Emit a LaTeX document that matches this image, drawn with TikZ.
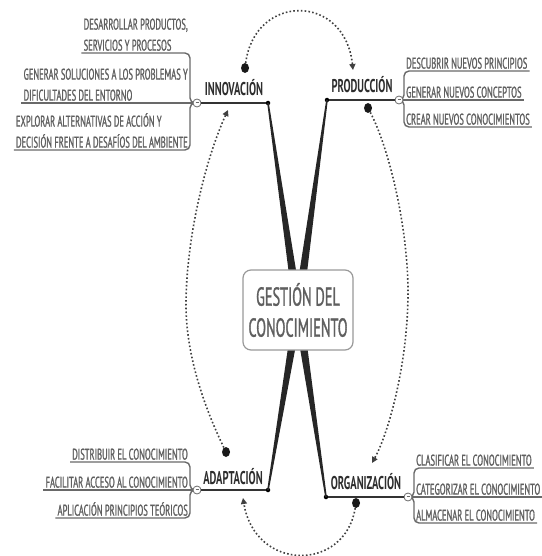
\documentclass[tikz,border=0pt]{standalone}
\usepackage{fontspec}
\usetikzlibrary{arrows.meta,calc,shapes.geometric}
\newfontfamily\narrow[FakeStretch=0.55,FakeBold=1.1]{PT Sans}
\newfontfamily\narrowlabel[FakeStretch=0.57]{PT Sans}
\definecolor{itemgray}{RGB}{95,95,95}
\definecolor{linegray}{RGB}{105,105,105}
\definecolor{labelgray}{RGB}{45,45,45}

\begin{document}
\begin{tikzpicture}[x=1pt,y=-1pt]
  \tikzstyle{item}=[font=\narrow\fontsize{15.5}{21}\selectfont, text=itemgray, inner xsep=2pt, inner ysep=2pt, align=left]
  \tikzstyle{rama}=[font=\narrowlabel\bfseries\fontsize{18.5}{22}\selectfont, text=labelgray]
  \tikzstyle{sub}=[draw=linegray, line width=1.4pt, rounded corners=5pt]
  \tikzstyle{eje}=[draw=black!80, line width=1.5pt]
  \tikzstyle{toggle}=[circle, draw=linegray, fill=white, text=linegray, line width=0.8pt, inner sep=0pt, minimum size=8pt]
  \tikzstyle{punto}=[circle, fill=black, inner sep=0pt, minimum size=4.5pt]
  \tikzstyle{bola}=[ellipse, fill=black!90, inner sep=0pt, minimum width=8pt, minimum height=10pt]
  \tikzstyle{ciclo}=[draw=black!75, line width=1.6pt, dash pattern=on 1.6pt off 2.2pt, -{Triangle[length=6pt,width=6pt]}]
  \tikzstyle{centro}=[draw=black!40, fill=white, line width=1.2pt, rounded corners=8pt, minimum width=110pt, minimum height=80pt, align=center, text=itemgray, font=\narrow\fontsize{26}{31}\selectfont]

  \useasboundingbox (0,0) rectangle (541,556);

  % ramas
  \node[rama] (inn) at (234,88) {INNOVACIÓN};
  \node[rama] (pro) at (362,85) {PRODUCCIÓN};
  \node[rama] (ada) at (233,477) {ADAPTACIÓN};
  \node[rama] (org) at (366,482) {ORGANIZACIÓN};

  \node[punto] (inn_p) at (268,103) {};
  \node[punto] (pro_p) at (327,100) {};
  \node[punto] (ada_p) at (268,490) {};
  \node[punto] (org_p) at (326,497) {};

  \coordinate (c) at (298,310);
  \fill[black!85] ($(inn_p.center)+(-0.8,0)$) -- ($(c)+(-4.5,0)$) -- ($(c)+(4.5,0)$) -- ($(inn_p.center)+(0.8,0)$) -- cycle;
  \fill[black!85] ($(pro_p.center)+(-0.8,0)$) -- ($(c)+(-4.5,0)$) -- ($(c)+(4.5,0)$) -- ($(pro_p.center)+(0.8,0)$) -- cycle;
  \fill[black!85] ($(ada_p.center)+(-0.8,0)$) -- ($(c)+(-4.5,0)$) -- ($(c)+(4.5,0)$) -- ($(ada_p.center)+(0.8,0)$) -- cycle;
  \fill[black!85] ($(org_p.center)+(-0.8,0)$) -- ($(c)+(-4.5,0)$) -- ($(c)+(4.5,0)$) -- ($(org_p.center)+(0.8,0)$) -- cycle;

  \node[centro] (gc) at (c) {GESTIÓN DEL\\CONOCIMIENTO};

  % subtemas
  \node[item, anchor=south east] (inn_1) at (190,53) {DESARROLLAR PRODUCTOS,\\SERVICIOS Y PROCESOS};
  \node[item, anchor=south east] (inn_2) at (190,103) {GENERAR SOLUCIONES A LOS PROBLEMAS Y\\DIFICULTADES DEL ENTORNO};
  \node[item, anchor=south east] (inn_3) at (190,150) {EXPLORAR ALTERNATIVAS DE ACCIÓN Y\\DECISIÓN FRENTE A DESAFÍOS DEL AMBIENTE};

  \node[item, anchor=south west] (pro_1) at (404,71) {DESCUBRIR NUEVOS PRINCIPIOS};
  \node[item, anchor=south west] (pro_2) at (404,100) {GENERAR NUEVOS CONCEPTOS};
  \node[item, anchor=south west] (pro_3) at (404,127) {CREAR NUEVOS CONOCIMIENTOS};

  \node[item, anchor=south east] (ada_1) at (190,462) {DISTRIBUIR EL CONOCIMIENTO};
  \node[item, anchor=south east] (ada_2) at (190,490) {FACILITAR ACCESO AL CONOCIMIENTO};
  \node[item, anchor=south east] (ada_3) at (190,518) {APLICACIÓN PRINCIPIOS TEÓRICOS};

  \node[item, anchor=south west] (org_1) at (414,468) {CLASIFICAR EL CONOCIMIENTO};
  \node[item, anchor=south west] (org_2) at (414,497) {CATEGORIZAR EL CONOCIMIENTO};
  \node[item, anchor=south west] (org_3) at (414,523) {ALMACENAR EL CONOCIMIENTO};

  \draw[sub] (197,103) -- ++(-7,0) |- (inn_1.south west);
  \draw[sub] (197,103) -- (inn_2.south west);
  \draw[sub] (197,103) -- ++(-7,0) |- (inn_3.south west);
  \draw[sub] (399,100) -- ++(5,0) |- (pro_1.south east);
  \draw[sub] (399,100) -- (pro_2.south east);
  \draw[sub] (399,100) -- ++(5,0) |- (pro_3.south east);
  \draw[sub] (197,490) -- ++(-7,0) |- (ada_1.south west);
  \draw[sub] (197,490) -- (ada_2.south west);
  \draw[sub] (197,490) -- ++(-7,0) |- (ada_3.south west);
  \draw[sub] (408,497) -- ++(6,0) |- (org_1.south east);
  \draw[sub] (408,497) -- (org_2.south east);
  \draw[sub] (408,497) -- ++(6,0) |- (org_3.south east);

  \node[toggle] (inn_c) at (197,103) {\rule[0.8pt]{3pt}{0.6pt}};
  \node[toggle] (pro_c) at (399,100) {\rule[0.8pt]{3pt}{0.6pt}};
  \node[toggle] (ada_c) at (197,490) {\rule[0.8pt]{3pt}{0.6pt}};
  \node[toggle] (org_c) at (408,497) {\rule[0.8pt]{3pt}{0.6pt}};

  \draw[eje] (inn_c) -- (inn_p);
  \draw[eje] (pro_p) -- (pro_c);
  \draw[eje] (ada_c) -- (ada_p);
  \draw[eje] (org_p) -- (org_c);

  % ciclo
  \node[bola] (inn_b) at (245,68) {};
  \node[bola] (pro_b) at (368,108) {};
  \node[bola] (org_b) at (356,503) {};
  \node[bola] (ada_b) at (226,452) {};
  \coordinate (inn_t) at (228,110);
  \coordinate (pro_t) at (353,70);
  \coordinate (org_t) at (372,463);
  \coordinate (ada_t) at (243,498);

  \draw[ciclo] (inn_b) .. controls (255,-7) and (345,-7) .. (pro_t);
  \draw[ciclo] (pro_b) .. controls (390,150) and (408,230) .. (408,292) .. controls (408,360) and (390,430) .. (org_t);
  \draw[ciclo] (org_b) .. controls (345,572) and (255,572) .. (ada_t);
  \draw[ciclo] (ada_b) .. controls (208,415) and (186,360) .. (186,305) .. controls (186,240) and (205,160) .. (inn_t);
\end{tikzpicture}
\end{document}
